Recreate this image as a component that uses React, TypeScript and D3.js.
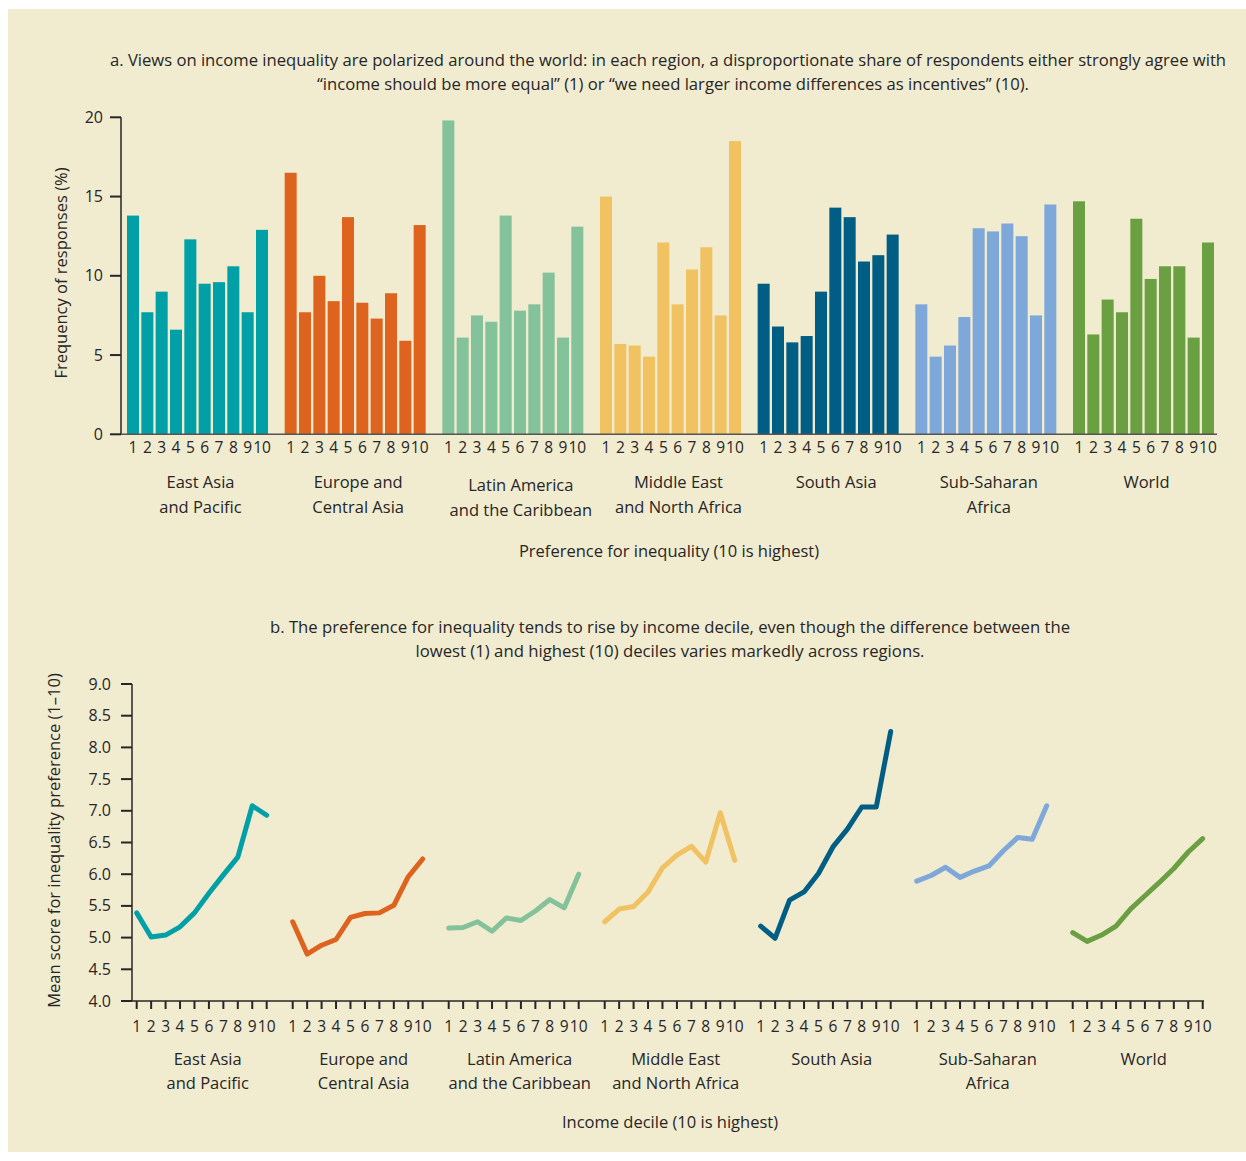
import * as d3 from 'd3';
import * as React from 'react';

const regions = [
  'East Asia and Pacific',
  'Europe and Central Asia',
  'Latin America and the Caribbean',
  'Middle East and North Africa',
  'South Asia',
  'Sub-Saharan Africa',
  'World',
];

const regionLines: string[][] = [
  ['East Asia', 'and Pacific'],
  ['Europe and', 'Central Asia'],
  ['Latin America', 'and the Caribbean'],
  ['Middle East', 'and North Africa'],
  ['South Asia'],
  ['Sub-Saharan', 'Africa'],
  ['World'],
];

const colors = ['#00a0a6', '#dd631e', '#83c29a', '#f1c261', '#005d84', '#7ea8d9', '#6a9f42'];

const deciles = [1, 2, 3, 4, 5, 6, 7, 8, 9, 10];

// panel a: frequency of responses (%) for preference 1..10
const eastAsiaFreq = [13.8, 7.7, 9.0, 6.6, 12.3, 9.5, 9.6, 10.6, 7.7, 12.9];
const europeFreq = [16.5, 7.7, 10.0, 8.4, 13.7, 8.3, 7.3, 8.9, 5.9, 13.2];
const latinFreq = [19.8, 6.1, 7.5, 7.1, 13.8, 7.8, 8.2, 10.2, 6.1, 13.1];
const meFreq = [15.0, 5.7, 5.6, 4.9, 12.1, 8.2, 10.4, 11.8, 7.5, 18.5];
const southAsiaFreq = [9.5, 6.8, 5.8, 6.2, 9.0, 14.3, 13.7, 10.9, 11.3, 12.6];
const ssaFreq = [8.2, 4.9, 5.6, 7.4, 13.0, 12.8, 13.3, 12.5, 7.5, 14.5];
const worldFreq = [14.7, 6.3, 8.5, 7.7, 13.6, 9.8, 10.6, 10.6, 6.1, 12.1];
const freqSeries = [eastAsiaFreq, europeFreq, latinFreq, meFreq, southAsiaFreq, ssaFreq, worldFreq];

// panel b: mean score by income decile
const eastAsiaMean = [5.39, 5.01, 5.04, 5.17, 5.39, 5.7, 5.99, 6.27, 7.08, 6.93];
const europeMean = [5.25, 4.74, 4.88, 4.97, 5.32, 5.38, 5.39, 5.51, 5.96, 6.24];
const latinMean = [5.15, 5.16, 5.25, 5.1, 5.31, 5.27, 5.42, 5.6, 5.47, 6.0];
const meMean = [5.25, 5.45, 5.49, 5.72, 6.1, 6.3, 6.44, 6.19, 6.97, 6.22];
const southAsiaMean = [5.18, 4.99, 5.59, 5.72, 6.01, 6.43, 6.71, 7.06, 7.06, 8.25];
const ssaMean = [5.89, 5.98, 6.11, 5.95, 6.05, 6.13, 6.37, 6.58, 6.55, 7.08];
const worldMean = [5.08, 4.94, 5.04, 5.18, 5.45, 5.66, 5.87, 6.09, 6.35, 6.56];
const meanSeries = [eastAsiaMean, europeMean, latinMean, meMean, southAsiaMean, ssaMean, worldMean];

const freqTicks = [0, 5, 10, 15, 20];
const meanTicks = [4, 4.5, 5, 5.5, 6, 6.5, 7, 7.5, 8, 8.5, 9];

const titleA = [
  'a. Views on income inequality are polarized around the world: in each region, a disproportionate share of respondents either strongly agree with',
  '\u201cincome should be more equal\u201d (1) or \u201cwe need larger income differences as incentives\u201d (10).',
];
const titleB = [
  'b. The preference for inequality tends to rise by income decile, even though the difference between the',
  'lowest (1) and highest (10) deciles varies markedly across regions.',
];

const FONT = '"Open Sans", "Noto Sans", sans-serif';
const INK = '#262626';
const W = 1246;
const H = 1161;

export default function App() {
  // ---- panel a scales
  const yA = d3.scaleLinear().domain([0, 20]).range([434.3, 117.3]);
  const groupA = d3.scaleBand<string>().domain(regions).range([127, 1214]).paddingInner(0.1057);
  const barA = d3
    .scaleBand<number>()
    .domain(deciles)
    .range([0, groupA.bandwidth()])
    .paddingInner(0.163);

  // ---- panel b scales
  const yB = d3.scaleLinear().domain([4, 9]).range([1001, 684]);
  const groupB = d3.scaleBand<string>().domain(regions).range([136.7, 1202.7]).paddingInner(0.1667);
  const ptB = d3.scalePoint<number>().domain(deciles).range([0, groupB.bandwidth()]);

  const line = d3
    .line<number>()
    .x((_, i) => ptB(deciles[i]) as number)
    .y((d) => yB(d));

  const textStyle = { fontFamily: FONT, fill: INK };

  return (
    <svg
      width={W}
      height={H}
      style={{ position: 'absolute', left: 0, top: 0, background: '#fff' }}
    >
      <rect x={8} y={9} width={W - 8} height={1143} fill="#f1ebd0" />

      {/* ===== Panel a ===== */}
      <g style={textStyle} fontSize={16} textAnchor="middle">
        <text x={668} y={66} textLength={1116} lengthAdjust="spacingAndGlyphs">
          {titleA[0]}
        </text>
        <text x={673} y={90} textLength={712} lengthAdjust="spacingAndGlyphs">
          {titleA[1]}
        </text>
      </g>

      {/* y axis a */}
      <g style={textStyle}>
        <line x1={121} x2={121} y1={yA(20)} y2={yA(0)} stroke={INK} strokeWidth={1.5} />
        {freqTicks.map((t) => (
          <g key={t}>
            <line x1={110} x2={121} y1={yA(t)} y2={yA(t)} stroke={INK} strokeWidth={2} />
            <text x={103} y={yA(t) + 5.5} fontSize={16} textAnchor="end">
              {t}
            </text>
          </g>
        ))}
        <text
          transform={`translate(67,273) rotate(-90)`}
          fontSize={16.5}
          textAnchor="middle"
        >
          Frequency of responses (%)
        </text>
      </g>

      {/* bars */}
      {regions.map((r, ri) => {
        const gx = groupA(r) as number;
        return (
          <g key={r} transform={`translate(${gx},0)`}>
            {freqSeries[ri].map((v, i) => (
              <rect
                key={i}
                x={barA(deciles[i])}
                y={yA(v)}
                width={barA.bandwidth()}
                height={yA(0) - yA(v)}
                fill={colors[ri]}
              />
            ))}
            {deciles.map((d) => (
              <text
                key={d}
                x={(barA(d) as number) + barA.bandwidth() / 2}
                y={453}
                fontSize={15.5}
                textAnchor="middle"
                style={textStyle}
              >
                {d}
              </text>
            ))}
            {regionLines[ri].map((l, li) => (
              <text
                key={li}
                x={groupA.bandwidth() / 2 + 3 + (ri >= 2 && ri <= 4 ? 5 : 0)}
                y={488 + li * 25 + (ri === 2 ? 3 : 0)}
                fontSize={16.5}
                textAnchor="middle"
                style={textStyle}
              >
                {l}
              </text>
            ))}
          </g>
        );
      })}
      <line x1={121} x2={1217} y1={yA(0)} y2={yA(0)} stroke="#555" strokeWidth={1.5} />
      <text x={669} y={557} fontSize={16.5} textAnchor="middle" style={textStyle}>
        Preference for inequality (10 is highest)
      </text>

      {/* ===== Panel b ===== */}
      <g style={textStyle} fontSize={16} textAnchor="middle">
        <text x={670} y={633} textLength={800} lengthAdjust="spacingAndGlyphs">
          {titleB[0]}
        </text>
        <text x={670} y={657} textLength={509} lengthAdjust="spacingAndGlyphs">
          {titleB[1]}
        </text>
      </g>

      <g style={textStyle}>
        <line x1={132} x2={132} y1={yB(9)} y2={yB(4)} stroke={INK} strokeWidth={1.5} />
        {meanTicks.map((t) => (
          <g key={t}>
            <line x1={121} x2={132} y1={yB(t)} y2={yB(t)} stroke={INK} strokeWidth={2} />
            <text x={111} y={yB(t) + 5.5} fontSize={16} textAnchor="end">
              {d3.format('.1f')(t)}
            </text>
          </g>
        ))}
        <text
          transform={`translate(60,${(yB(9) + yB(4)) / 2 - 2}) rotate(-90)`}
          fontSize={16.5}
          textAnchor="middle"
        >
          Mean score for inequality preference (1–10)
        </text>
      </g>

      <line x1={132} x2={1204} y1={yB(4)} y2={yB(4)} stroke={INK} strokeWidth={1.5} />

      {regions.map((r, ri) => {
        const gx = groupB(r) as number;
        return (
          <g key={r} transform={`translate(${gx},0)`}>
            {deciles.map((d) => (
              <g key={d}>
                <line
                  x1={ptB(d)}
                  x2={ptB(d)}
                  y1={yB(4)}
                  y2={yB(4) + 8}
                  stroke={INK}
                  strokeWidth={2}
                />
                <text
                  x={ptB(d)}
                  y={1032}
                  fontSize={15.5}
                  textAnchor="middle"
                  style={textStyle}
                >
                  {d}
                </text>
              </g>
            ))}
            <path
              d={line(meanSeries[ri]) ?? ''}
              fill="none"
              stroke={colors[ri]}
              strokeWidth={5}
              strokeLinecap="round"
              strokeLinejoin="round"
            />
            {regionLines[ri].map((l, li) => (
              <text
                key={li}
                x={groupB.bandwidth() / 2 + 6}
                y={1065 + li * 24}
                fontSize={16.5}
                textAnchor="middle"
                style={textStyle}
              >
                {l}
              </text>
            ))}
          </g>
        );
      })}
      <text x={670} y={1128} fontSize={16.5} textAnchor="middle" style={textStyle}>
        Income decile (10 is highest)
      </text>
    </svg>
  );
}
